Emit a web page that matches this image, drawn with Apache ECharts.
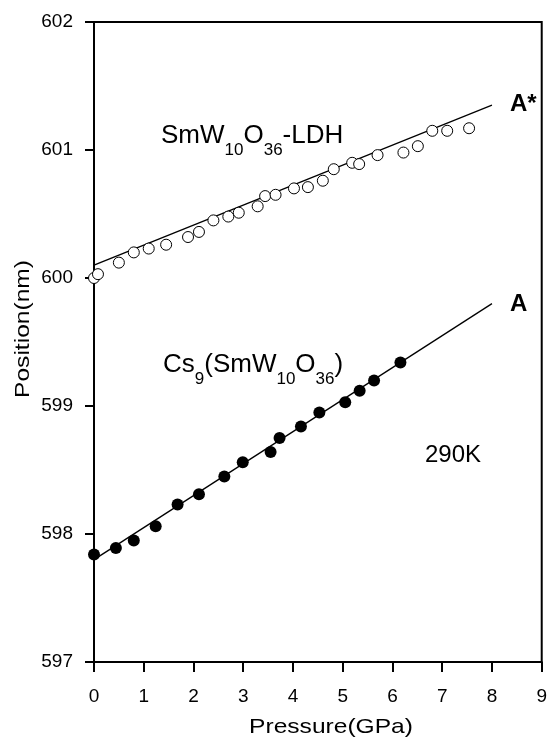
<!DOCTYPE html>
<html>
<head>
<meta charset="utf-8">
<script src="https://cdn.jsdelivr.net/npm/echarts@6/dist/echarts.min.js"></script>
<style>
  html, body { margin: 0; padding: 0; background: #fff; }
  #chart { width: 550px; height: 741px; }
</style>
</head>
<body>
<div id="chart"></div>
<script>
// SmW10O36-LDH (open circles)
const ldhPressure = [0, 0.08, 0.5, 0.8, 1.1, 1.45, 1.89, 2.11, 2.4, 2.7, 2.91, 3.29, 3.44, 3.65, 4.02, 4.3, 4.6, 4.82, 5.19, 5.33, 5.7, 6.22, 6.51, 6.8, 7.1, 7.54];
const ldhPosition = [600.0, 600.03, 600.12, 600.2, 600.23, 600.26, 600.32, 600.36, 600.45, 600.48, 600.51, 600.56, 600.64, 600.65, 600.7, 600.71, 600.76, 600.85, 600.9, 600.89, 600.96, 600.98, 601.03, 601.15, 601.15, 601.17];
// Cs9(SmW10O36) (filled circles)
const csPressure = [0, 0.44, 0.8, 1.24, 1.68, 2.11, 2.62, 2.99, 3.55, 3.73, 4.16, 4.53, 5.05, 5.34, 5.63, 6.16];
const csPosition = [597.84, 597.89, 597.95, 598.06, 598.23, 598.31, 598.45, 598.56, 598.64, 598.75, 598.84, 598.95, 599.03, 599.12, 599.2, 599.34];
// linear fits (end points)
const fitAStarX = [0, 8];
const fitAStarY = [600.10, 601.35];
const fitAX = [0, 8];
const fitAY = [597.80, 599.80];

const zip = (xs, ys) => xs.map((x, i) => [x, ys[i]]);
const font = '"Liberation Sans", Arial, sans-serif';

// 下标用的富文本样式, 下标靠 padding 往下压
const richSub = {
  n: { fontFamily: font, fontSize: 26, fill: '#000', verticalAlign: 'top', lineHeight: 40 },
  s: { fontFamily: font, fontSize: 17, fill: '#000', verticalAlign: 'top', lineHeight: 17, padding: [19, 0, 0, 0] }
};

const chart = echarts.init(document.getElementById('chart'));

const option = {
  animation: false,
  backgroundColor: '#fff',
  grid: {
    left: 94, right: 4, top: 22, bottom: 79,
    show: true, borderColor: '#000', borderWidth: 2, backgroundColor: 'transparent'
  },
  xAxis: {
    type: 'value', min: 0, max: 9, interval: 1,
    axisLine: { lineStyle: { color: '#000', width: 2 } },
    axisTick: { inside: false, length: 10, lineStyle: { color: '#000', width: 2 } },
    axisLabel: { margin: 25, fontFamily: font, fontSize: 19, color: '#000' },
    splitLine: { show: false }
  },
  yAxis: {
    type: 'value', min: 597, max: 602, interval: 1,
    axisLine: { lineStyle: { color: '#000', width: 2 } },
    axisTick: { inside: false, length: 9, lineStyle: { color: '#000', width: 2 } },
    axisLabel: { margin: 21, fontFamily: font, fontSize: 19, color: '#000' },
    splitLine: { show: false }
  },
  graphic: [
    // axis titles
    {
      type: 'text', x: 331, y: 727, scaleX: 1.17,
      style: { text: 'Pressure(GPa)', font: '21px ' + font, fill: '#000', align: 'center', verticalAlign: 'middle' }
    },
    {
      type: 'text', x: 23, y: 329, rotation: Math.PI / 2, scaleX: 1.17,
      style: { text: 'Position(nm)', font: '21px ' + font, fill: '#000', align: 'center', verticalAlign: 'middle' }
    },
    // annotations
    {
      type: 'text', x: 161, y: 123,
      style: { text: '{n|SmW}{s|10}{n|O}{s|36}{n|-LDH}', rich: richSub, verticalAlign: 'top' }
    },
    {
      type: 'text', x: 163, y: 352,
      style: { text: '{n|Cs}{s|9}{n|(SmW}{s|10}{n|O}{s|36}{n|)}', rich: richSub, verticalAlign: 'top' }
    },
    {
      type: 'text', x: 425, y: 455,
      style: { text: '290K', font: '24px ' + font, fill: '#000', verticalAlign: 'middle' }
    },
    {
      type: 'text', x: 510, y: 104,
      style: { text: 'A*', font: 'bold 24px ' + font, fill: '#000', verticalAlign: 'middle' }
    },
    {
      type: 'text', x: 510, y: 304,
      style: { text: 'A', font: 'bold 24px ' + font, fill: '#000', verticalAlign: 'middle' }
    }
  ],
  series: [
    {
      type: 'line', data: zip(fitAStarX, fitAStarY), symbol: 'none',
      lineStyle: { color: '#000', width: 1.3 }, z: 2
    },
    {
      type: 'line', data: zip(fitAX, fitAY), symbol: 'none',
      lineStyle: { color: '#000', width: 1.3 }, z: 2
    },
    {
      type: 'scatter', data: zip(ldhPressure, ldhPosition), symbol: 'circle', symbolSize: 11,
      itemStyle: { color: '#fff', borderColor: '#000', borderWidth: 1, opacity: 1 }, z: 3, clip: false
    },
    {
      type: 'scatter', data: zip(csPressure, csPosition), symbol: 'circle', symbolSize: 12,
      itemStyle: { color: '#000', opacity: 1 }, z: 3, clip: false
    }
  ]
};

chart.setOption(option);
</script>
</body>
</html>
